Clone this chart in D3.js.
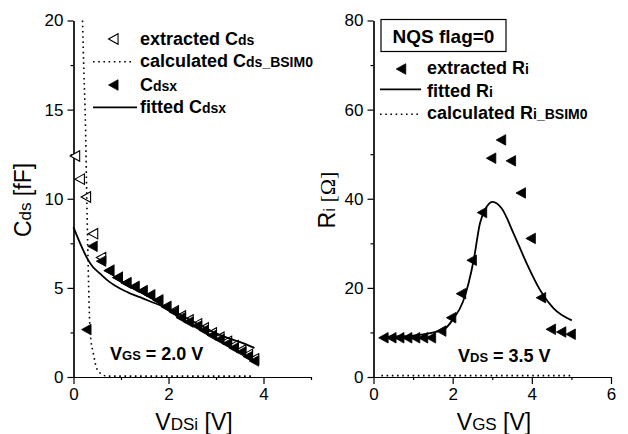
<!DOCTYPE html>
<html>
<head>
<meta charset="utf-8">
<script src="https://cdn.jsdelivr.net/npm/d3@7"></script>
<style>
body { margin: 0; background: #fff; }
svg { font-family: "Liberation Sans", Arial, sans-serif; }
.axis path, .axis line { stroke: #000; stroke-width: 1.2; }
.axis text { font-size: 17px; fill: #000; font-family: "Liberation Sans", Arial, sans-serif; }
</style>
</head>
<body>
<div id="chart"></div>
<script>
// ---- data: left panel (Cds vs VDSi, VGS = 2.0 V) ----
var cdsExtX = [0.03, 0.13, 0.26, 0.41, 0.58, 0.75, 0.93, 1.11, 1.28, 1.45, 1.61, 1.78, 1.95, 2.11, 2.26, 2.42, 2.6, 2.74, 2.91, 3.07, 3.23, 3.37, 3.53, 3.67, 3.8];
var cdsExt = [12.4, 11.1, 10.1, 8.04, 6.7, 5.98, 5.58, 5.28, 5.06, 4.83, 4.59, 4.31, 3.95, 3.7, 3.42, 3.2, 2.98, 2.75, 2.47, 2.23, 2.0, 1.76, 1.52, 1.27, 1.02];
var cdsxX = [0.27, 0.40, 0.58, 0.75, 0.93, 1.11, 1.28, 1.45, 1.61, 1.78, 1.95, 2.11, 2.26, 2.42, 2.6, 2.74, 2.91, 3.07, 3.23, 3.37, 3.53, 3.67, 3.8];
var cdsx = [2.66, 7.33, 6.5, 5.95, 5.57, 5.27, 5.05, 4.82, 4.58, 4.3, 3.93, 3.65, 3.33, 3.08, 2.86, 2.62, 2.34, 2.11, 1.87, 1.63, 1.4, 1.15, 0.9];
var cdsFitX = [0, 0.14, 0.28, 0.4, 0.56, 0.75, 0.98, 1.2, 1.47, 1.7, 1.97, 2.25, 2.53, 2.78, 3.02, 3.26, 3.51, 3.81];
var cdsFit = [8.4, 7.5, 6.7, 6.2, 5.8, 5.35, 4.96, 4.68, 4.4, 4.15, 3.89, 3.48, 3.09, 2.75, 2.43, 2.18, 1.96, 1.63];
var cdsBsimX = [0.19, 0.22, 0.25, 0.28, 0.32, 0.35, 0.42, 0.49, 0.6, 0.7, 1.0, 3.75];
var cdsBsim = [20, 17, 14.4, 10, 5, 2.5, 1.3, 0.47, 0.15, 0.05, 0.05, 0.05];

// ---- data: right panel (Ri vs VGS, VDS = 3.5 V) ----
var riX = [0.25, 0.45, 0.65, 0.85, 1.05, 1.25, 1.45, 1.71, 1.96, 2.21, 2.48, 2.74, 2.97, 3.22, 3.47, 3.72, 3.97, 4.23, 4.48, 4.74, 4.98];
var riExt = [8.8, 8.8, 8.8, 8.8, 8.8, 8.8, 8.8, 10.3, 13.3, 18.7, 26.2, 36.9, 49.1, 53.2, 48.5, 41.3, 31.1, 17.8, 10.7, 10.1, 9.6];
var riFitX = [0.2, 0.6, 1.0, 1.4, 1.6, 1.77, 2.02, 2.26, 2.4, 2.53, 2.69, 2.86, 3.01, 3.24, 3.54, 3.87, 4.21, 4.55, 5.01];
var riFit = [9.0, 9.1, 9.3, 9.8, 10.2, 10.6, 13.1, 16.9, 21.0, 26.2, 34.5, 38.2, 39.3, 37.8, 32.2, 25.5, 19.5, 15.4, 12.7];
var riBsimX = [0.2, 5.0];
var riBsim = [0.3, 0.3];

// tick values
var cdsTicks = [0, 5, 10, 15, 20];
var cdsMinor = [2.5, 7.5, 12.5, 17.5];
var vdsTicks = [0, 2, 4];
var vdsMinor = [1, 3, 5];
var riTicks = [0, 20, 40, 60, 80];
var riMinor = [10, 30, 50, 70];
var vgsTicks = [0, 2, 4, 6];
var vgsMinor = [1, 3, 5];

var svgWidth = 628;
var svgHeight = 434;

var svg = d3.select("#chart")
    .append("svg")
    .attr("width", svgWidth)
    .attr("height", svgHeight);

var yTop = 20.5, yBottom = 377;

// scales
var xLeft = d3.scaleLinear().domain([0, 5]).range([73.5, 311]);
var yLeft = d3.scaleLinear().domain([0, 20]).range([yBottom, yTop]);
var xRight = d3.scaleLinear().domain([0, 6]).range([373.5, 611]);
var yRight = d3.scaleLinear().domain([0, 80]).range([yBottom, yTop]);

function zip(xs, ys) { return xs.map((x, i) => [x, ys[i]]); }

// draw axes with minor ticks
function drawAxes(xs, ys, xt, xm, yt, ym) {
    var fmt = d3.format("d");
    svg.append("g").attr("class", "axis")
        .attr("transform", `translate(0,${yBottom})`)
        .call(d3.axisBottom(xs).tickValues(xt).tickFormat(fmt).tickSize(7).tickSizeOuter(0).tickPadding(4));
    svg.append("g").attr("class", "axis")
        .attr("transform", `translate(0,${yBottom})`)
        .call(d3.axisBottom(xs).tickValues(xm).tickSize(3).tickSizeOuter(0).tickFormat(""));
    svg.append("g").attr("class", "axis")
        .attr("transform", `translate(${xs.range()[0]},0)`)
        .call(d3.axisLeft(ys).tickValues(yt).tickFormat(fmt).tickSize(6).tickSizeOuter(0).tickPadding(4));
    svg.append("g").attr("class", "axis")
        .attr("transform", `translate(${xs.range()[0]},0)`)
        .call(d3.axisLeft(ys).tickValues(ym).tickSize(3).tickSizeOuter(0).tickFormat(""));
}
drawAxes(xLeft, yLeft, vdsTicks, vdsMinor, cdsTicks, cdsMinor);
drawAxes(xRight, yRight, vgsTicks, vgsMinor, riTicks, riMinor);

// left-pointing triangle path
function triPath(cx, cy) {
    var w = 9.5, h = 10.5;
    return `M${cx - w / 2},${cy}L${cx + w / 2},${cy - h / 2}L${cx + w / 2},${cy + h / 2}Z`;
}

function drawTriangles(data, xs, ys, filled) {
    svg.append("g").selectAll("path")
        .data(data)
        .enter()
        .append("path")
        .attr("d", d => triPath(xs(d[0]), ys(d[1])))
        .attr("fill", filled ? "#000" : "#fff")
        .attr("stroke", "#000")
        .attr("stroke-width", filled ? 0.8 : 1.1);
}

function drawLine(data, xs, ys, dotted) {
    var line = d3.line().x(d => xs(d[0])).y(d => ys(d[1])).curve(d3.curveMonotoneX);
    svg.append("path")
        .datum(data)
        .attr("d", line)
        .attr("fill", "none")
        .attr("stroke", "#000")
        .attr("stroke-width", dotted ? 1.6 : 1.8)
        .attr("stroke-dasharray", dotted ? "1.6,3.6" : null);
}

// left panel marks
drawTriangles(zip(cdsExtX, cdsExt), xLeft, yLeft, false);
drawTriangles(zip(cdsxX, cdsx), xLeft, yLeft, true);
drawLine(zip(cdsBsimX, cdsBsim), xLeft, yLeft, true);
drawLine(zip(cdsFitX, cdsFit), xLeft, yLeft, false);

// right panel marks
drawTriangles(zip(riX, riExt), xRight, yRight, true);
drawLine(zip(riBsimX, riBsim), xRight, yRight, true);
drawLine(zip(riFitX, riFit), xRight, yRight, false);

// text helper: parts = [[text, size, family?], ...]
function richText(x, y, parts, opts) {
    opts = opts || {};
    var t = svg.append("text")
        .attr("x", x).attr("y", y)
        .attr("font-weight", opts.bold ? "bold" : "normal")
        .attr("text-anchor", opts.anchor || "start");
    if (opts.rotate) t.attr("transform", `rotate(-90,${x},${y})`);
    parts.forEach(p => {
        var s = t.append("tspan").attr("font-size", p[1]).text(p[0]);
        if (p[2]) s.attr("font-family", p[2]);
    });
    return t;
}

// axis titles
richText(194, 430, [["V", 23], ["DSi", 17], [" [V]", 23]], { anchor: "middle" });
richText(494, 430, [["V", 23], ["GS", 17], [" [V]", 23]], { anchor: "middle" });
richText(31, 200, [["C", 23], ["ds", 17], [" [fF]", 23]], { anchor: "middle", rotate: true });
richText(335, 200, [["R", 23], ["i", 17], [" [\u03A9]", 22, "Liberation Serif"]], { anchor: "middle", rotate: true });

// annotations
richText(110, 360, [["V", 18], ["GS", 13], [" = 2.0 V", 18]], { bold: true });
richText(458, 362, [["V", 18], ["DS", 13], [" = 3.5 V", 18]], { bold: true });

// left legend
drawTriangles([[0, 0]], v => 113.3, v => 39, false);
richText(140, 45, [["extracted C", 18], ["ds", 14]], { bold: true });
svg.append("line").attr("x1", 93).attr("x2", 132).attr("y1", 61.7).attr("y2", 61.7)
    .attr("stroke", "#000").attr("stroke-width", 1.6).attr("stroke-dasharray", "1.6,3.6");
richText(140, 67, [["calculated C", 18], ["ds_BSIM0", 14]], { bold: true });
drawTriangles([[0, 0]], v => 113.3, v => 85, true);
richText(140, 91, [["C", 18], ["dsx", 14]], { bold: true });
svg.append("line").attr("x1", 93).attr("x2", 137).attr("y1", 107.3).attr("y2", 107.3)
    .attr("stroke", "#000").attr("stroke-width", 1.8);
richText(140, 113, [["fitted C", 18], ["dsx", 14]], { bold: true });

// right legend
svg.append("rect").attr("x", 381).attr("y", 19.5).attr("width", 125).attr("height", 32)
    .attr("fill", "none").attr("stroke", "#000").attr("stroke-width", 1.2);
richText(443.5, 43, [["NQS flag=0", 19]], { bold: true, anchor: "middle" });
drawTriangles([[0, 0]], v => 401, v => 69, true);
richText(427, 74, [["extracted R", 18], ["i", 14]], { bold: true });
svg.append("line").attr("x1", 380).attr("x2", 421).attr("y1", 89.3).attr("y2", 89.3)
    .attr("stroke", "#000").attr("stroke-width", 1.8);
richText(427, 96.5, [["fitted R", 18], ["i", 14]], { bold: true });
svg.append("line").attr("x1", 380).attr("x2", 420).attr("y1", 114.3).attr("y2", 114.3)
    .attr("stroke", "#000").attr("stroke-width", 1.6).attr("stroke-dasharray", "1.6,3.6");
richText(427, 119, [["calculated R", 18], ["i_BSIM0", 14]], { bold: true });
</script>
</body>
</html>
